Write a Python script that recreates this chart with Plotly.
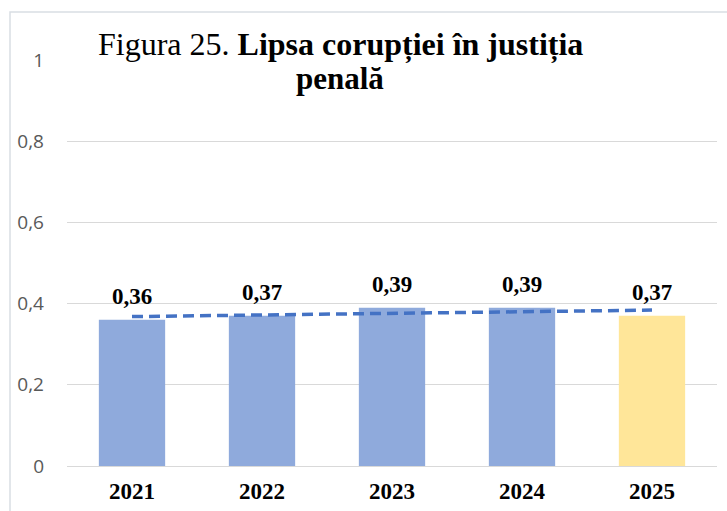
import plotly.graph_objects as go

years = ["2021", "2022", "2023", "2024", "2025"]
values = [0.36, 0.37, 0.39, 0.39, 0.37]
labels = ["0,36", "0,37", "0,39", "0,39", "0,37"]
bar_colors = ["#8FAADC", "#8FAADC", "#8FAADC", "#8FAADC", "#FFE699"]
tick_vals = [0, 0.2, 0.4, 0.6, 0.8, 1]
tick_text = ["0", "0,2", "0,4", "0,6", "0,8", "1"]

# linear trend (least squares)
n = len(values)
xs = list(range(1, n + 1))
mx = sum(xs) / n
my = sum(values) / n
slope = sum((x - mx) * (y - my) for x, y in zip(xs, values)) / sum((x - mx) ** 2 for x in xs)
trend = [my + slope * (x - mx) for x in xs]

L, R, T, B = 67, 10, 60, 45
W, H = 727, 511
PW, PH = W - L - R, H - T - B

fig = go.Figure()
fig.add_trace(go.Bar(x=years, y=values, marker=dict(color=bar_colors, line=dict(width=0)),
                     showlegend=False, hoverinfo="skip"))
fig.add_trace(go.Scatter(x=years, y=trend, mode="lines",
                         line=dict(color="#4472C4", width=3.5, dash="11px,6px"),
                         showlegend=False, hoverinfo="skip"))

# category index positions for value labels
for i, (v, t) in enumerate(zip(values, labels)):
    fig.add_annotation(x=i, y=v, text="<b>" + t + "</b>", showarrow=False, yanchor="bottom", yshift=9,
                       font=dict(family="Liberation Serif", size=23, color="#000000"))

cx = (340 - L) / PW
fig.add_annotation(xref="paper", yref="paper", x=cx, y=1 + (T - 44) / PH,
                   xanchor="center", yanchor="middle", showarrow=False,
                   text="Figura 25. <b>Lipsa corupției în justiția</b>",
                   font=dict(family="Liberation Serif", size=32, color="#000000"))
fig.add_annotation(xref="paper", yref="paper", x=cx, y=1 + (T - 78) / PH,
                   xanchor="center", yanchor="middle", showarrow=False,
                   text="<b>penală</b>",
                   font=dict(family="Liberation Serif", size=31, color="#000000"))

fig.add_shape(type="rect", xref="paper", yref="paper",
              x0=(10 - L) / PW, x1=1.2, y0=-0.3, y1=1 + (T - 12) / PH,
              line=dict(color="#D9DEE4", width=1.5), fillcolor="rgba(0,0,0,0)", layer="below")

fig.update_layout(
    width=W, height=H,
    margin=dict(l=L, r=R, t=T, b=B, autoexpand=False),
    paper_bgcolor="white", plot_bgcolor="white",
    bargap=0.49,
    xaxis=dict(type="category", range=[-0.5, 4.5], showgrid=False, showline=False, ticks="",
               automargin=False,
               tickfont=dict(family="Liberation Serif", size=23, color="#000000", weight="bold"),
               ticklabelstandoff=9),
    yaxis=dict(range=[0, 1], tickvals=tick_vals, ticktext=tick_text, automargin=False,
               showgrid=True, gridcolor="#D9D9D9", gridwidth=1,
               zeroline=True, zerolinecolor="#D9D9D9", zerolinewidth=1,
               showline=False, ticks="",
               tickfont=dict(family="Open Sans", size=19, color="#595959"),
               ticklabelstandoff=22),
)

fig.write_html("out.html", config={"displayModeBar": False},
               post_script="document.body.style.margin='0';")
